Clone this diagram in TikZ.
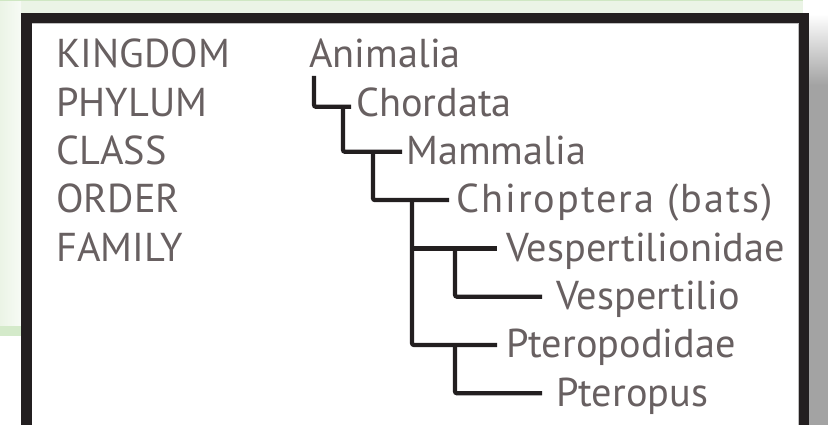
\documentclass[tikz,border=0pt]{standalone}
\usepackage{fontspec}
\setmainfont{PT Sans}
\usetikzlibrary{calc}
\definecolor{txtgray}{HTML}{686061}
\definecolor{framebk}{HTML}{231F20}
\definecolor{panelgreen}{HTML}{EBF4E6}
\definecolor{stripgreen}{HTML}{D4EACA}
\definecolor{topgreen}{HTML}{CFE7C3}
\definecolor{shadowgray}{HTML}{A3A3A3}
\tikzset{
  lbl/.style={anchor=base west, inner sep=0pt, text=txtgray, font=\fontsize{40.3}{40.3}\selectfont},
  tree/.style={draw=framebk, line width=4.2pt, rounded corners=2pt}
}
\begin{document}
\begin{tikzpicture}[x=1pt,y=-1pt]
\useasboundingbox (0,0) rectangle (828,425);
\clip (0,0) rectangle (828,425);
% background panel
\fill[white] (0,0) rectangle (828,425);
\fill[panelgreen] (0,0) rectangle (803,325);
\fill[topgreen] (0,0) rectangle (803,1.5);
\fill[stripgreen] (0,325) rectangle (803,336);
\shade[left color=panelgreen, right color=white!60!panelgreen] (0,1.5) rectangle (21,325);
% shadow
\shade[top color=white, bottom color=shadowgray] (809,14) rectangle (828,85);
\fill[shadowgray] (809,85) rectangle (828,425);
% frame
\fill[white] (21,13) rectangle (809,440);
\draw[framebk, line width=10.5pt] (26.25,18.25) rectangle (803.75,460);
\draw[gray!50, line width=1pt] (32,23.5) -- (798.5,23.5) -- (798.5,440);
% ranks
\node[lbl] (kingdom) at (56,68) {KINGDOM};
\node[lbl] (phylum)  at (56,116.3) {PHYLUM};
\node[lbl] (class)   at (56,164.6) {CLASS};
\node[lbl] (order)   at (56,212.9) {ORDER};
\node[lbl] (family)  at (56,261.2) {FAMILY};
% taxa
\node[lbl] (animalia) at (309,68) {Animalia};
\node[lbl] (chordata) at (356,116.3) {Chordata};
\node[lbl] (mammalia) at (406,164.6) {Mammalia};
\node[lbl] (chiroptera) at (456,212.9) {\addfontfeatures{LetterSpace=5}Chiroptera (bats)};
\node[lbl] (vespidae) at (506,261.2) {Vespertilionidae};
\node[lbl] (vesp) at (556,309.5) {Vespertilio};
\node[lbl] (pteridae) at (506,357.8) {Pteropodidae};
\node[lbl] (pter) at (556,406.1) {Pteropus};
% junction coordinates
\coordinate (a0) at ($(animalia.base west)+(5,8)$);
\coordinate (c1) at ($(chordata.base west)+(-5,-9.5)$);
\coordinate (c0) at ($(chordata.base west)+(-13,-9.5)$);
\coordinate (m1) at ($(mammalia.base west)+(-4,-12.8)$);
\coordinate (m0) at ($(mammalia.base west)+(-33,-12.8)$);
\coordinate (o1) at ($(chiroptera.base west)+(-7,-12.8)$);
\coordinate (o0) at ($(chiroptera.base west)+(-44,-12.8)$);
\coordinate (f1) at ($(vespidae.base west)+(-9,-12.8)$);
\coordinate (f0) at ($(vespidae.base west)+(-51,-12.8)$);
\coordinate (g1) at ($(vesp.base west)+(-14,-12.8)$);
\coordinate (p1) at ($(pteridae.base west)+(-9,-12.8)$);
\coordinate (p0) at ($(pteridae.base west)+(-51,-12.8)$);
\coordinate (h1) at ($(pter.base west)+(-14,-12.8)$);
% tree
\draw[tree] (a0) |- (c1);
\draw[tree] (c0) |- (m1);
\draw[tree] (m0) |- (o1);
\draw[tree] (o0) |- (p1);
\draw[tree] (o0 |- f1) -- (f1);
\draw[tree] (f0) |- (g1);
\draw[tree] (p0) |- (h1);
\end{tikzpicture}
\end{document}
